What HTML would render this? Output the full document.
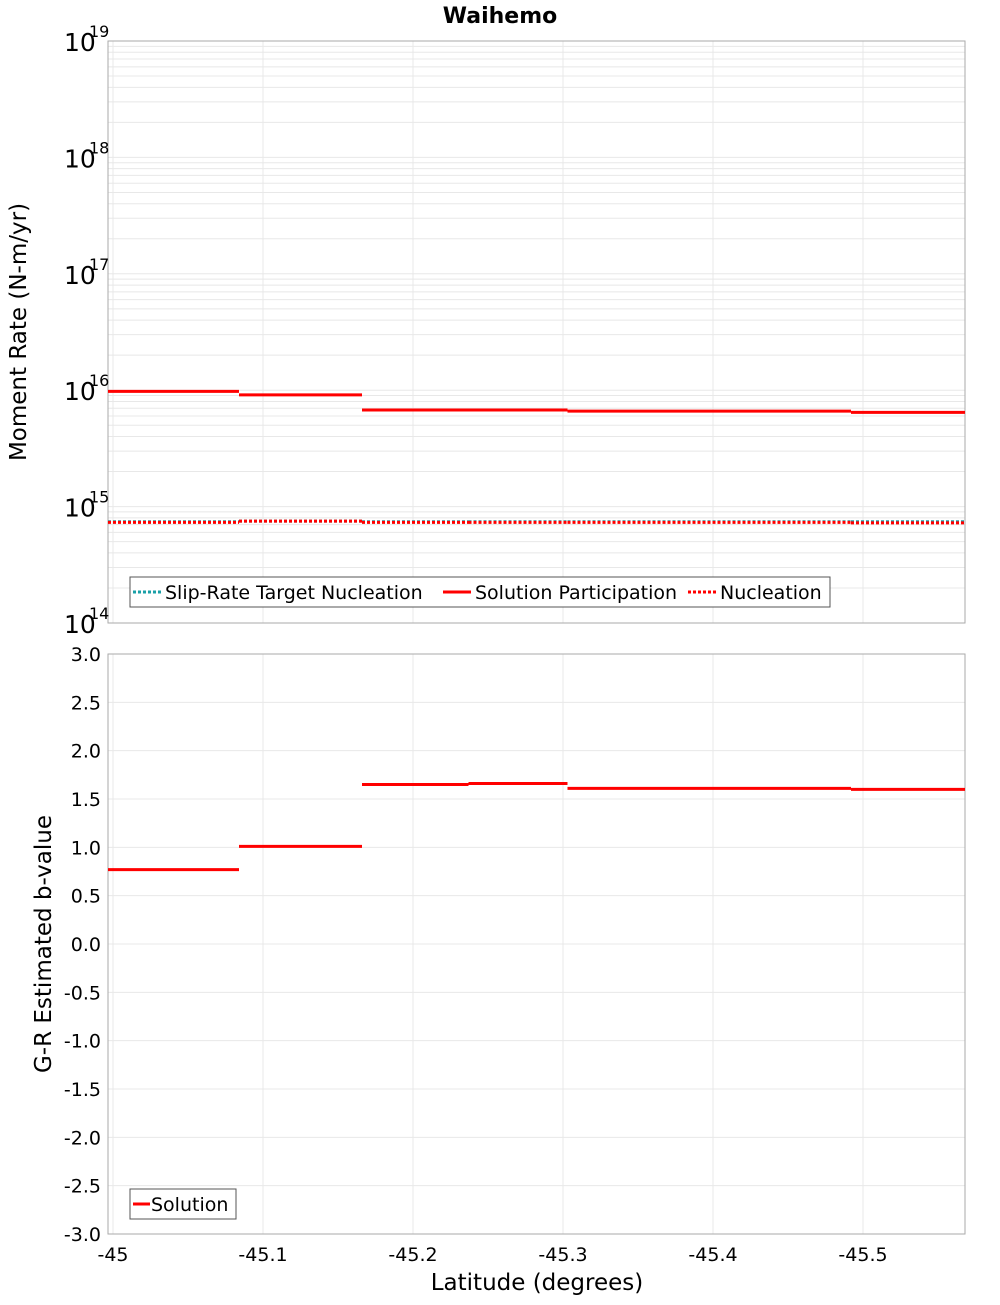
<!DOCTYPE html>
<html><head><meta charset="utf-8"><style>
body{margin:0;background:#fff;font-family:"Liberation Sans","DejaVu Sans",sans-serif}
svg text{font-family:"DejaVu Sans","Liberation Sans",sans-serif}
</style></head><body>
<svg id="c" width="1000" height="1300" xmlns="http://www.w3.org/2000/svg"></svg>
<script>
const edges=[-44.977,-45.084,-45.166,-45.237,-45.303,-45.492,-45.569];
const solutionLogMoment=[15.99,15.96,15.83,15.83,15.82,15.81];
const nucleationLogMoment=[14.865,14.875,14.865,14.865,14.865,14.86];
const targetLogMoment=[14.87,14.875,14.87,14.87,14.87,14.87];
const bValues=[0.77,1.01,1.65,1.66,1.61,1.60];
const xTicks=[-45,-45.1,-45.2,-45.3,-45.4,-45.5];
const xTickLabels=["-45","-45.1","-45.2","-45.3","-45.4","-45.5"];
const logTicks=[19,18,17,16,15,14];
const bTicks=[3,2.5,2,1.5,1,0.5,0,-0.5,-1,-1.5,-2,-2.5,-3];

const svg=document.getElementById('c');const NS='http://www.w3.org/2000/svg';
function el(t,a,p){const e=document.createElementNS(NS,t);for(const k in a)e.setAttribute(k,a[k]);(p||svg).appendChild(e);return e;}
const L=108,R=965,T1=41,B1=623,T2=654,B2=1234;
const xs=v=>113+(-45-v)*1500;
const y1=v=>T1+(19-v)*(B1-T1)/5;
const y2=v=>T2+(3-v)*(B2-T2)/6;

const g1=el('g',{});

for(let d=14;d<19;d++)for(let m=1;m<10;m++){const y=y1(d+Math.log10(m));el('line',{x1:L,x2:R,y1:y,y2:y,stroke:'#e8e8e8','stroke-width':1},g1);}
const g2=el('g',{});

bTicks.forEach(v=>{const y=y2(v);el('line',{x1:L,x2:R,y1:y,y2:y,stroke:'#e8e8e8'},g2);});
xTicks.forEach(v=>{const x=xs(v);el('line',{x1:x,x2:x,y1:T1,y2:B1,stroke:'#e8e8e8'},g1);el('line',{x1:x,x2:x,y1:T2,y2:B2,stroke:'#e8e8e8'},g2);});

const f1=el('rect',{x:L,y:T1,width:R-L,height:B1-T1,fill:'none',stroke:'#aaa'});

const f2=el('rect',{x:L,y:T2,width:R-L,height:B2-T2,fill:'none',stroke:'#aaa'});


function steps(vals,yf,attrs,name){const g=el('g',{});
 vals.forEach((v,i)=>{const x1=Math.max(L,xs(edges[i])),x2=Math.min(R,xs(edges[i+1]));const ln=el('line',Object.assign({x1:x1,x2:x2,y1:yf(v),y2:yf(v)},attrs),g);});}
steps(targetLogMoment,y1,{stroke:'#1aa0a8','stroke-width':3,'stroke-dasharray':'3,2'},'slip-rate-target-line');
steps(nucleationLogMoment,y1,{stroke:'#ff0000','stroke-width':3,'stroke-dasharray':'3,2'},'nucleation-line');
steps(solutionLogMoment,y1,{stroke:'#ff0000','stroke-width':3},'solution-participation-line');
steps(bValues,y2,{stroke:'#ff0000','stroke-width':3},'b-value-line');

logTicks.forEach(d=>{const y=y1(d);const t=el('text',{x:64,y:y+10,'font-size':25,fill:'#000'});t.textContent='10';
 const s=el('text',{x:89,y:y-4,'font-size':16,fill:'#000'});s.textContent=String(d);});
bTicks.forEach(v=>{const t=el('text',{x:101,y:y2(v)+7,'font-size':19,'text-anchor':'end',fill:'#000'});t.textContent=v.toFixed(1);});
xTicks.forEach((v,i)=>{const t=el('text',{x:xs(v),y:1261,'font-size':19,'text-anchor':'middle',fill:'#000'});t.textContent=xTickLabels[i];});

let t=el('text',{x:500,y:23,'font-size':22,'font-weight':'bold','text-anchor':'middle'});t.textContent='Waihemo';
t=el('text',{x:537,y:1290,'font-size':23,'text-anchor':'middle'});t.textContent='Latitude (degrees)';
t=el('text',{x:0,y:0,'font-size':23,'text-anchor':'middle',transform:'translate(26,332) rotate(-90)'});t.textContent='Moment Rate (N-m/yr)';
t=el('text',{x:0,y:0,'font-size':23,'text-anchor':'middle',transform:'translate(51,944) rotate(-90)'});t.textContent='G-R Estimated b-value';

const lg=el('g',{});
el('rect',{x:130,y:577,width:700,height:30,fill:'#fff',stroke:'#555'},lg);
const items=[[133,'#1aa0a8','3,2','Slip-Rate Target Nucleation'],[443,'#ff0000','','Solution Participation'],[688,'#ff0000','3,2','Nucleation']];
items.forEach(it=>{const e=el('g',{},lg);
 const a={x1:it[0],x2:it[0]+28,y1:592,y2:592,stroke:it[1],'stroke-width':3};if(it[2])a['stroke-dasharray']=it[2];el('line',a,e);
 const tx=el('text',{x:it[0]+32,y:599,'font-size':19},e);tx.textContent=it[3];});
const lg2=el('g',{});
el('rect',{x:130,y:1189,width:106,height:30,fill:'#fff',stroke:'#555'},lg2);
el('line',{x1:133,x2:150,y1:1204,y2:1204,stroke:'#ff0000','stroke-width':3},lg2);
t=el('text',{x:151,y:1211,'font-size':19},lg2);t.textContent='Solution';
</script>
</body></html>
